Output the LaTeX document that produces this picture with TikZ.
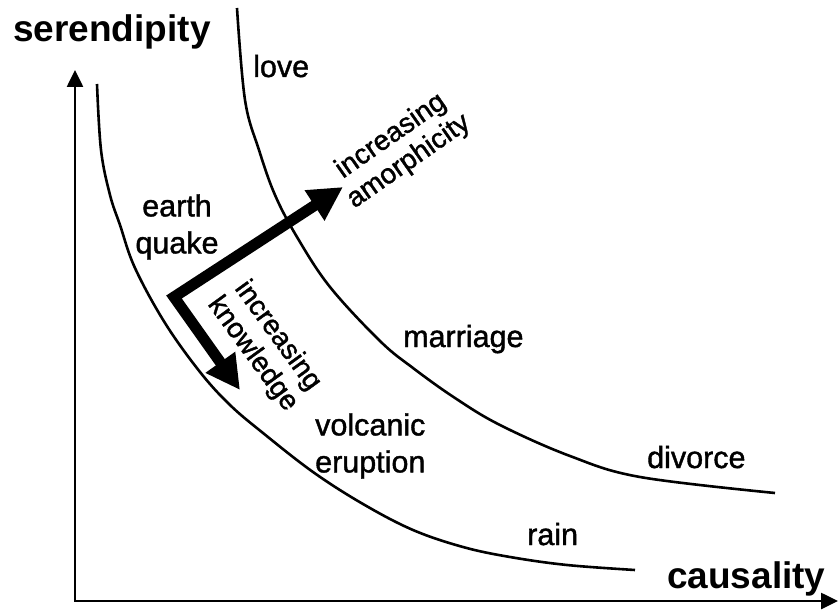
\documentclass[tikz,border=0pt]{standalone}
\usepackage{fontspec}
\setmainfont{Liberation Sans}
\newfontfamily\heavysans[FakeBold=1.3]{Liberation Sans}
\usetikzlibrary{arrows.meta}
\begin{document}
\begin{tikzpicture}[x=1pt,y=-1pt,
  lbl/.style={inner sep=0pt,font=\heavysans\fontsize{30.5}{37}\selectfont},
  axlbl/.style={inner sep=0pt,font=\fontsize{37}{40}\selectfont\bfseries},
  rlbl/.style={inner sep=0pt,align=center,font=\heavysans\fontsize{28}{31}\selectfont},
  curve/.style={line width=2.6pt},
  axis/.style={line width=2.6pt,line join=miter,{Triangle[length=17pt,width=16pt]}-{Triangle[length=17pt,width=16pt]}},
  bigarrow/.style={line width=11pt,line join=miter,{Triangle[length=34pt,width=34pt]}-{Triangle[length=34pt,width=34pt]}}
]
\useasboundingbox (0,0) rectangle (839,610);
% axes
\coordinate (ytop) at (75,70);
\coordinate (origin) at (75,601);
\coordinate (xend) at (838,601);
\draw[axis] (ytop) -- (origin) -- (xend);
% curves
\draw[curve] plot[smooth,tension=0.6] coordinates {(97,84) (101,150) (110,195) (120,225) (135,268) (165,323) (200,372) (230,405) (263,433) (313,472) (363,504) (413,530) (463,547) (510,557) (567,565) (635,570)};
\draw[curve] plot[smooth,tension=0.6] coordinates {(237,8) (245,100) (259,150) (275,195) (297,237) (330,287) (380,341) (413,368) (455,398) (500,425) (570,456) (640,477) (775,493)};
% thick arrows
\coordinate (tipA) at (343,187);
\coordinate (corner) at (174,297);
\coordinate (tipK) at (240,390);
\draw[bigarrow] (tipA) -- (corner) -- (tipK);
% labels
\node[axlbl,anchor=base west] (ser) at (13,42) {serendipity};
\node[axlbl,anchor=base west] (cau) at (667,588) {causality};
\node[lbl,anchor=base west] (love) at (253,77) {love};
\node[lbl,align=center] (eq) at (177,227) {earth\\quake};
\node[lbl,anchor=base west] (mar) at (403,347) {marriage};
\node[lbl,align=left,anchor=west] (vol) at (315,446) {volcanic\\eruption};
\node[lbl,anchor=base west] (div) at (647,468) {divorce};
\node[lbl,anchor=base west] (rain) at (527,545) {rain};
\node[rlbl,rotate=35] (amo) at (400,149) {increasing\\amorphicity};
\node[rlbl,rotate=-54] (kno) at (265,345) {increasing\\knowledge};
\end{tikzpicture}
\end{document}
